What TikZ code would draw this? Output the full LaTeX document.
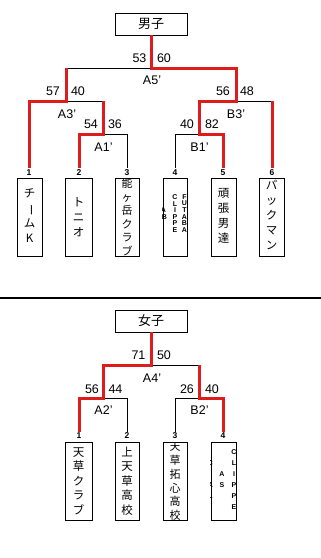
\documentclass[tikz,border=0pt]{standalone}
\usepackage{fontspec}
\usepackage{graphicx}
\setmainfont{Liberation Sans}
\newfontfamily\jp{Noto Sans CJK JP}
\definecolor{wred}{RGB}{222,28,28}
\newcommand{\vbar}{\rotatebox[origin=c]{-90}{ー}}
\tikzset{
  titlebox/.style={draw, line width=0.8pt, minimum width=72pt, minimum height=22pt, inner sep=0pt, font=\jp\fontsize{13}{13}\selectfont},
  team/.style={draw, line width=0.8pt, minimum width=25pt, minimum height=78pt, inner sep=0pt, anchor=north},
  jptext/.style={inner sep=0pt, align=center, font=\jp\fontsize{11.5}{15}\selectfont},
  jpsmall/.style={inner sep=0pt, align=center, font=\jp\fontsize{11}{13.6}\selectfont},
  tiny/.style={inner sep=0pt, font=\bfseries\fontsize{7}{7}\selectfont},
  num/.style={inner sep=0pt, font=\bfseries\fontsize{8.5}{8.5}\selectfont},
  score/.style={inner sep=0pt, font=\fontsize{12.5}{12.5}\selectfont},
  win/.style={draw=wred, line width=3pt},
  lose/.style={draw=black, line width=0.9pt}
}
\begin{document}
\begin{tikzpicture}[x=1pt,y=-1pt]
\useasboundingbox (0,0) rectangle (321,558);
% ===== Men =====
\node[titlebox] (T1) at (151,24) {男子};
\foreach \i/\x in {1/29,2/79,3/127,4/175,5/223,6/272}{
  \node[num] (nm\i) at (\x,173) {\i};
}
\node[team] (m1) at (29.5,178) {};
\node[team, minimum width=27pt] (m2) at (78.5,178) {};
\node[team, minimum width=24pt] (m3) at (127,178) {};
\node[team, minimum width=24pt] (m4) at (175,178) {};
\node[team] (m5) at (223.5,178) {};
\node[team] (m6) at (271.5,178) {};
\node[jptext] (t1) at (29.5,216) {チ\\\vbar\\ム\\K};
\node[jptext] (t2) at (78.5,217) {ト\\ニ\\オ};
\begin{scope}
  \clip (m3.north west) rectangle (m3.south east);
  \node[jpsmall] (t3) at (127,217) {能\\ヶ\\岳\\ク\\ラ\\ブ};
\end{scope}
\begin{scope}
  \clip (m4.north west) rectangle (m4.south east);
  \foreach \c/\k in {C/0,L/1,I/2,P/3,P/4,E/5}{\node[tiny] at (175,197+6.6*\k) {\c};}
  \foreach \c/\k in {F/0,U/1,T/2,A/3,B/4,A/5}{\node[tiny] at (184.5,197+6.6*\k) {\c};}
  \node[tiny] at (163.5,210.2) {A};
  \node[tiny] at (164.5,216.8) {B};
\end{scope}
\node[jptext] (t5) at (223.5,216) {頑\\張\\男\\達};
\node[jptext] (t6) at (271.5,215) {パ\\ッ\\ク\\マ\\ン};
% junction coordinates
\coordinate (a5) at (151,68);
\coordinate (a5l) at (66,68);
\coordinate (a5r) at (236,68);
\coordinate (a3) at (66,101);
\coordinate (a3l) at (29,101);
\coordinate (a3r) at (103,101);
\coordinate (a1) at (103,134);
\coordinate (a1l) at (79,134);
\coordinate (a1r) at (127,134);
\coordinate (b3) at (236,101);
\coordinate (b3l) at (199,101);
\coordinate (b3r) at (272,101);
\coordinate (b1) at (199,134);
\coordinate (b1l) at (175,134);
\coordinate (b1r) at (223,134);
\foreach \i/\x in {1/29,2/79,3/127,4/175,5/223,6/272}{\coordinate (em\i) at (\x,168);}
% losing lines
\draw[lose] (a5l) -- (a5);
\draw[lose] (a3) -- (a3r);
\draw[lose] (a1) -- (a1r) -- (em3);
\draw[lose] (b3) -- (b3r);
\draw[lose] (em4) -- (b1l) -- (b1);
% winning lines
\draw[win] (T1.south) -- (a5) -- (a5r) -- (b3) -- (b3l) -- (b1) -- (b1r) -- (em5);
\draw[win] (a5l) -- (a3) -- (a3l) -- (em1);
\draw[win] (a3r) -- (a1) -- (a1l) -- (em2);
\draw[win] (b3r) -- (em6);
% scores
\node[score] (s1) at (139.5,58) {53};
\node[score] (s2) at (164,58) {60};
\node[score] (l1) at (152,80) {A5’};
\node[score] (s3) at (53,91) {57};
\node[score] (s4) at (78,91) {40};
\node[score] (l2) at (67,114) {A3’};
\node[score] (s5) at (91,124) {54};
\node[score] (s6) at (115,124) {36};
\node[score] (l3) at (103.5,147) {A1’};
\node[score] (s7) at (223,91) {56};
\node[score] (s8) at (247,91) {48};
\node[score] (l4) at (236,114) {B3’};
\node[score] (s9) at (187,124) {40};
\node[score] (s10) at (212,124) {82};
\node[score] (l5) at (199.5,147) {B1’};
% separator
\coordinate (sepl) at (0,298);
\coordinate (sepr) at (321,298);
\draw[line width=2.5pt] (sepl) -- (sepr);
% ===== Women =====
\node[titlebox] (T2) at (151,321) {女子};
\foreach \i/\x in {1/79,2/127,3/175,4/223}{
  \node[num] (nw\i) at (\x,436) {\i};
  \coordinate (ew\i) at (\x,432);
}
\node[team, minimum width=27pt] (w1) at (78.5,442) {};
\node[team, minimum width=24pt] (w2) at (127,442) {};
\node[team, minimum width=24pt] (w3) at (175,442) {};
\node[team] (w4) at (223.5,442) {};
\node[jptext, font=\jp\fontsize{11.5}{14.5}\selectfont] (u1) at (78.5,481) {天\\草\\ク\\ラ\\ブ};
\node[jptext, font=\jp\fontsize{11.5}{14.5}\selectfont] (u2) at (127,481) {上\\天\\草\\高\\校};
\begin{scope}
  \clip (w3.north west) rectangle (w3.south east);
  \node[jpsmall, font=\jp\fontsize{11}{13.8}\selectfont] (u3) at (175,481.5) {天\\草\\拓\\心\\高\\校};
\end{scope}
\begin{scope}
  \clip (w4.north west) rectangle (w4.south east);
  \foreach \c/\k in {C/0,L/1,I/2,P/3,P/4,E/5}{\node[tiny] at (234,452+11*\k) {\c};}
  \node[tiny] at (222,474) {A};
  \node[tiny] at (222,485) {S};
  \node[tiny] at (210.5,463) {C};
  \node[tiny] at (210.5,485) {A};
  \node[tiny] at (210.5,496) {L};
\end{scope}
\coordinate (a4) at (151,365);
\coordinate (a4l) at (103,365);
\coordinate (a4r) at (199,365);
\coordinate (a2) at (103,398);
\coordinate (a2l) at (79,398);
\coordinate (a2r) at (127,398);
\coordinate (b2) at (199,398);
\coordinate (b2l) at (175,398);
\coordinate (b2r) at (223,398);
\draw[lose] (a4) -- (a4r);
\draw[lose] (a2) -- (a2r) -- (ew2);
\draw[lose] (ew3) -- (b2l) -- (b2);
\draw[win] (T2.south) -- (a4) -- (a4l) -- (a2) -- (a2l) -- (ew1);
\draw[win] (a4r) -- (b2) -- (b2r) -- (ew4);
\node[score] (v1) at (138.5,355) {71};
\node[score] (v2) at (164,355) {50};
\node[score] (k1) at (152,378) {A4’};
\node[score] (v3) at (92,389) {56};
\node[score] (v4) at (115.5,389) {44};
\node[score] (k2) at (103.5,410) {A2’};
\node[score] (v5) at (187,389) {26};
\node[score] (v6) at (212,389) {40};
\node[score] (k3) at (199.5,410) {B2’};
\end{tikzpicture}
\end{document}
